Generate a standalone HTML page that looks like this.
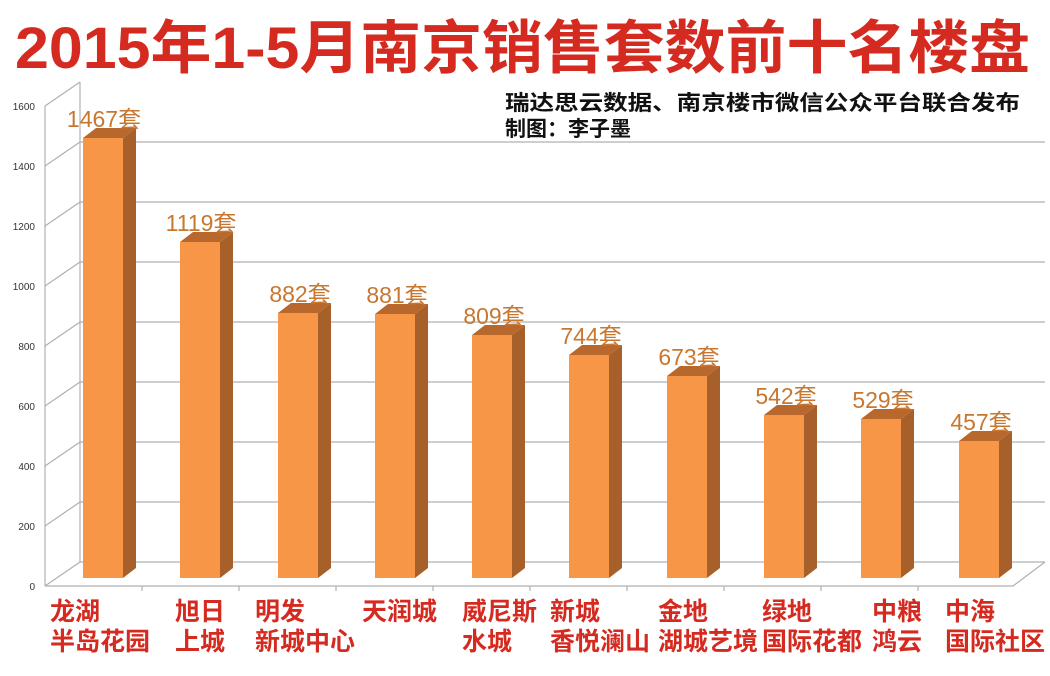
<!DOCTYPE html><html><head><meta charset="utf-8"><style>
body{margin:0;width:1050px;height:671px;background:#fff;overflow:hidden}
svg text{font-family:"Liberation Sans","Noto Sans CJK SC",sans-serif}
</style></head><body>
<svg width="1050" height="671" xmlns="http://www.w3.org/2000/svg">
<text x="15" y="68" font-size="58" font-weight="bold" fill="#d42a20" textLength="1015" lengthAdjust="spacingAndGlyphs">2015年1-5月南京销售套数前十名楼盘</text>
<text x="505" y="110" font-size="21" font-weight="bold" fill="#111" textLength="515" lengthAdjust="spacingAndGlyphs">瑞达思云数据、南京楼市微信公众平台联合发布</text>
<text x="505" y="136" font-size="21" font-weight="bold" fill="#111">制图：李子墨</text>
<g stroke="#b0b0b0" stroke-width="1.2" fill="none">
<line x1="80" y1="82" x2="80" y2="562"/>
<line x1="45" y1="106" x2="45" y2="586"/>
<line x1="80" y1="142" x2="1045" y2="142"/><line x1="45" y1="166" x2="80" y2="142"/>
<line x1="80" y1="202" x2="1045" y2="202"/><line x1="45" y1="226" x2="80" y2="202"/>
<line x1="80" y1="262" x2="1045" y2="262"/><line x1="45" y1="286" x2="80" y2="262"/>
<line x1="80" y1="322" x2="1045" y2="322"/><line x1="45" y1="346" x2="80" y2="322"/>
<line x1="80" y1="382" x2="1045" y2="382"/><line x1="45" y1="406" x2="80" y2="382"/>
<line x1="80" y1="442" x2="1045" y2="442"/><line x1="45" y1="466" x2="80" y2="442"/>
<line x1="80" y1="502" x2="1045" y2="502"/><line x1="45" y1="526" x2="80" y2="502"/>
<line x1="80" y1="562" x2="1045" y2="562"/><line x1="45" y1="586" x2="80" y2="562"/>
<line x1="45" y1="106" x2="80" y2="82"/>
<line x1="45" y1="586" x2="1013" y2="586"/><line x1="1013" y1="586" x2="1045" y2="562"/>
</g>
<g font-size="10" fill="#333" text-anchor="end">
<text x="35" y="110">1600</text><text x="35" y="170">1400</text><text x="35" y="230">1200</text><text x="35" y="290">1000</text>
<text x="35" y="350">800</text><text x="35" y="410">600</text><text x="35" y="470">400</text><text x="35" y="530">200</text><text x="35" y="590">0</text>
</g>
<g>
<rect x="83" y="138" width="40" height="440" fill="#f79646"/><polygon points="123,138 136,128 136,568 123,578" fill="#a8602a"/><polygon points="83,138 96,128 136,128 123,138" fill="#b8682c"/>
<rect x="180" y="242" width="40" height="336" fill="#f79646"/><polygon points="220,242 233,232 233,568 220,578" fill="#a8602a"/><polygon points="180,242 193,232 233,232 220,242" fill="#b8682c"/>
<rect x="278" y="313" width="40" height="265" fill="#f79646"/><polygon points="318,313 331,303 331,568 318,578" fill="#a8602a"/><polygon points="278,313 291,303 331,303 318,313" fill="#b8682c"/>
<rect x="375" y="314" width="40" height="264" fill="#f79646"/><polygon points="415,314 428,304 428,568 415,578" fill="#a8602a"/><polygon points="375,314 388,304 428,304 415,314" fill="#b8682c"/>
<rect x="472" y="335" width="40" height="243" fill="#f79646"/><polygon points="512,335 525,325 525,568 512,578" fill="#a8602a"/><polygon points="472,335 485,325 525,325 512,335" fill="#b8682c"/>
<rect x="569" y="355" width="40" height="223" fill="#f79646"/><polygon points="609,355 622,345 622,568 609,578" fill="#a8602a"/><polygon points="569,355 582,345 622,345 609,355" fill="#b8682c"/>
<rect x="667" y="376" width="40" height="202" fill="#f79646"/><polygon points="707,376 720,366 720,568 707,578" fill="#a8602a"/><polygon points="667,376 680,366 720,366 707,376" fill="#b8682c"/>
<rect x="764" y="415" width="40" height="163" fill="#f79646"/><polygon points="804,415 817,405 817,568 804,578" fill="#a8602a"/><polygon points="764,415 777,405 817,405 804,415" fill="#b8682c"/>
<rect x="861" y="419" width="40" height="159" fill="#f79646"/><polygon points="901,419 914,409 914,568 901,578" fill="#a8602a"/><polygon points="861,419 874,409 914,409 901,419" fill="#b8682c"/>
<rect x="959" y="441" width="40" height="137" fill="#f79646"/><polygon points="999,441 1012,431 1012,568 999,578" fill="#a8602a"/><polygon points="959,441 972,431 1012,431 999,441" fill="#b8682c"/>
</g>
<g font-size="23" fill="#c7772f" text-anchor="middle">
<text x="104" y="127">1467套</text><text x="201" y="231">1119套</text><text x="300" y="302">882套</text><text x="397" y="303">881套</text>
<text x="494" y="324">809套</text><text x="591" y="344">744套</text><text x="689" y="365">673套</text><text x="786" y="404">542套</text>
<text x="883" y="408">529套</text><text x="981" y="430">457套</text>
</g>
<g stroke="#b0b0b0" stroke-width="1.2">
<line x1="142" y1="586" x2="142" y2="591"/><line x1="239" y1="586" x2="239" y2="591"/><line x1="336" y1="586" x2="336" y2="591"/>
<line x1="433" y1="586" x2="433" y2="591"/><line x1="530" y1="586" x2="530" y2="591"/><line x1="627" y1="586" x2="627" y2="591"/>
<line x1="724" y1="586" x2="724" y2="591"/><line x1="821" y1="586" x2="821" y2="591"/><line x1="918" y1="586" x2="918" y2="591"/>
</g>
<g font-size="25" font-weight="bold" fill="#d42a20">
<text x="50" y="620">龙湖</text><text x="50" y="650">半岛花园</text>
<text x="175" y="620">旭日</text><text x="175" y="650">上城</text>
<text x="255" y="620">明发</text><text x="255" y="650">新城中心</text>
<text x="362" y="620">天润城</text>
<text x="462" y="620">威尼斯</text><text x="462" y="650">水城</text>
<text x="550" y="620">新城</text><text x="550" y="650">香悦澜山</text>
<text x="658" y="620">金地</text><text x="658" y="650">湖城艺境</text>
<text x="762" y="620">绿地</text><text x="762" y="650">国际花都</text>
<text x="872" y="620">中粮</text><text x="872" y="650">鸿云</text>
<text x="945" y="620">中海</text><text x="945" y="650">国际社区</text>
</g>
</svg></body></html>
